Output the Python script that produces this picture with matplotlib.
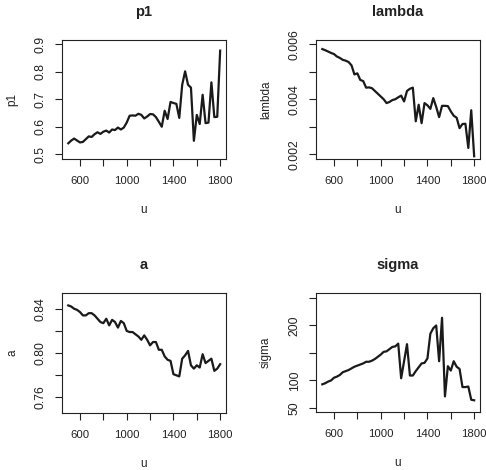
import matplotlib
matplotlib.use("Agg")
import matplotlib.pyplot as plt
import numpy as np

plt.rcParams['font.family'] = ['Liberation Sans', 'DejaVu Sans']

u = list(range(500, 1801, 25))

p1 = [0.540, 0.550, 0.557, 0.550, 0.543, 0.545, 0.555, 0.565, 0.563, 0.573,
      0.580, 0.574, 0.582, 0.586, 0.579, 0.590, 0.588, 0.597, 0.590, 0.597,
      0.615, 0.640, 0.641, 0.640, 0.647, 0.643, 0.630, 0.637, 0.646, 0.645,
      0.635, 0.618, 0.600, 0.658, 0.628, 0.690, 0.686, 0.683, 0.632, 0.752,
      0.801, 0.752, 0.742, 0.549, 0.643, 0.610, 0.716, 0.613, 0.615, 0.761,
      0.635, 0.636, 0.876]

lam = [0.00582, 0.00578, 0.00573, 0.00568, 0.00564, 0.00555, 0.00550, 0.00543, 0.00540, 0.00535,
       0.00523, 0.00490, 0.00494, 0.00470, 0.00466, 0.00442, 0.00443, 0.00440, 0.00430, 0.00420,
       0.00410, 0.00400, 0.00386, 0.00390, 0.00397, 0.00400, 0.00407, 0.00413, 0.00392, 0.00430,
       0.00438, 0.00442, 0.00320, 0.00380, 0.00313, 0.00386, 0.00378, 0.00365, 0.00404, 0.00372,
       0.00335, 0.00376, 0.00376, 0.00375, 0.00356, 0.00340, 0.00333, 0.00295, 0.00310, 0.00311,
       0.00223, 0.00360, 0.00193]

a = [0.843, 0.842, 0.840, 0.839, 0.837, 0.834, 0.834, 0.836, 0.836, 0.834,
     0.831, 0.828, 0.827, 0.831, 0.825, 0.830, 0.828, 0.823, 0.829, 0.827,
     0.820, 0.819, 0.819, 0.817, 0.815, 0.812, 0.816, 0.812, 0.807, 0.810,
     0.810, 0.803, 0.803, 0.797, 0.794, 0.793, 0.781, 0.780, 0.779, 0.795,
     0.798, 0.802, 0.789, 0.786, 0.789, 0.787, 0.799, 0.791, 0.793, 0.795,
     0.784, 0.786, 0.790]

sigma = [93, 95, 98, 100, 105, 107, 110, 115, 117, 119,
         122, 125, 127, 129, 131, 134, 134, 136, 139, 143,
         147, 152, 153, 157, 161, 162, 167, 104, 135, 166,
         109, 109, 117, 124, 131, 132, 140, 185, 195, 200,
         135, 214, 71, 126, 118, 135, 125, 121, 88, 88,
         89, 65, 64]

titles = ["p1", "lambda", "a", "sigma"]
series = [p1, lam, a, sigma]
ylims = [(0.483, 0.9145), (0.00183, 0.00615), (0.746, 0.8542), (42.7, 259)]
yticks = [[0.5, 0.6, 0.7, 0.8, 0.9],
          [0.002, 0.003, 0.004, 0.005, 0.006],
          [0.76, 0.78, 0.80, 0.82, 0.84],
          [50, 100, 150, 200, 250]]
yticklabels = [["0.5", "0.6", "0.7", "0.8", "0.9"],
               ["0.002", "", "0.004", "", "0.006"],
               ["0.76", "", "0.80", "", "0.84"],
               ["50", "100", "", "200", ""]]
xticks = [600, 800, 1000, 1200, 1400, 1600, 1800]
xticklabels = ["600", "", "1000", "", "1400", "", "1800"]

W, H = 486, 470
fig = plt.figure(figsize=(W / 100, H / 100), dpi=100)

# axes boxes in pixels: (left, top, right, bottom)
boxes = [(62, 40, 226, 159), (316, 40, 480, 159),
         (62, 293, 226, 413), (316, 293, 480, 412)]

for i, (l, t, r, b) in enumerate(boxes):
    ax = fig.add_axes([l / W, 1 - b / H, (r - l) / W, (b - t) / H])
    ax.plot(u, series[i], color='#1a1a1a', lw=1.6)
    ax.set_xlim(446, 1850)
    ax.set_ylim(*ylims[i])
    ax.set_xticks(xticks)
    ax.set_xticklabels(xticklabels)
    ax.set_yticks(yticks[i])
    ax.set_yticklabels(yticklabels[i], rotation=90, va='center')
    ax.tick_params(axis='both', direction='out', length=5, width=0.8,
                   colors='#222222')
    ax.tick_params(axis='x', pad=7, labelsize=8.2)
    ax.tick_params(axis='y', pad=6, labelsize=8.8)
    for sp in ax.spines.values():
        sp.set_linewidth(0.8)
        sp.set_color('#222222')
    cx = (l + r) / 2
    cy = (t + b) / 2
    fig.text(cx / W, 1 - (t - 28) / H, titles[i], ha='center', va='center',
             fontsize=10.5, fontweight='bold', color='#222222')
    fig.text(cx / W, 1 - (b + 51) / H, "u", ha='center', va='center',
             fontsize=8.5, color='#222222')
    fig.text((l - 50) / W, 1 - cy / H, titles[i], ha='center', va='center',
             rotation=90, fontsize=8.5, color='#222222')

fig.savefig("out.png", dpi=100)
